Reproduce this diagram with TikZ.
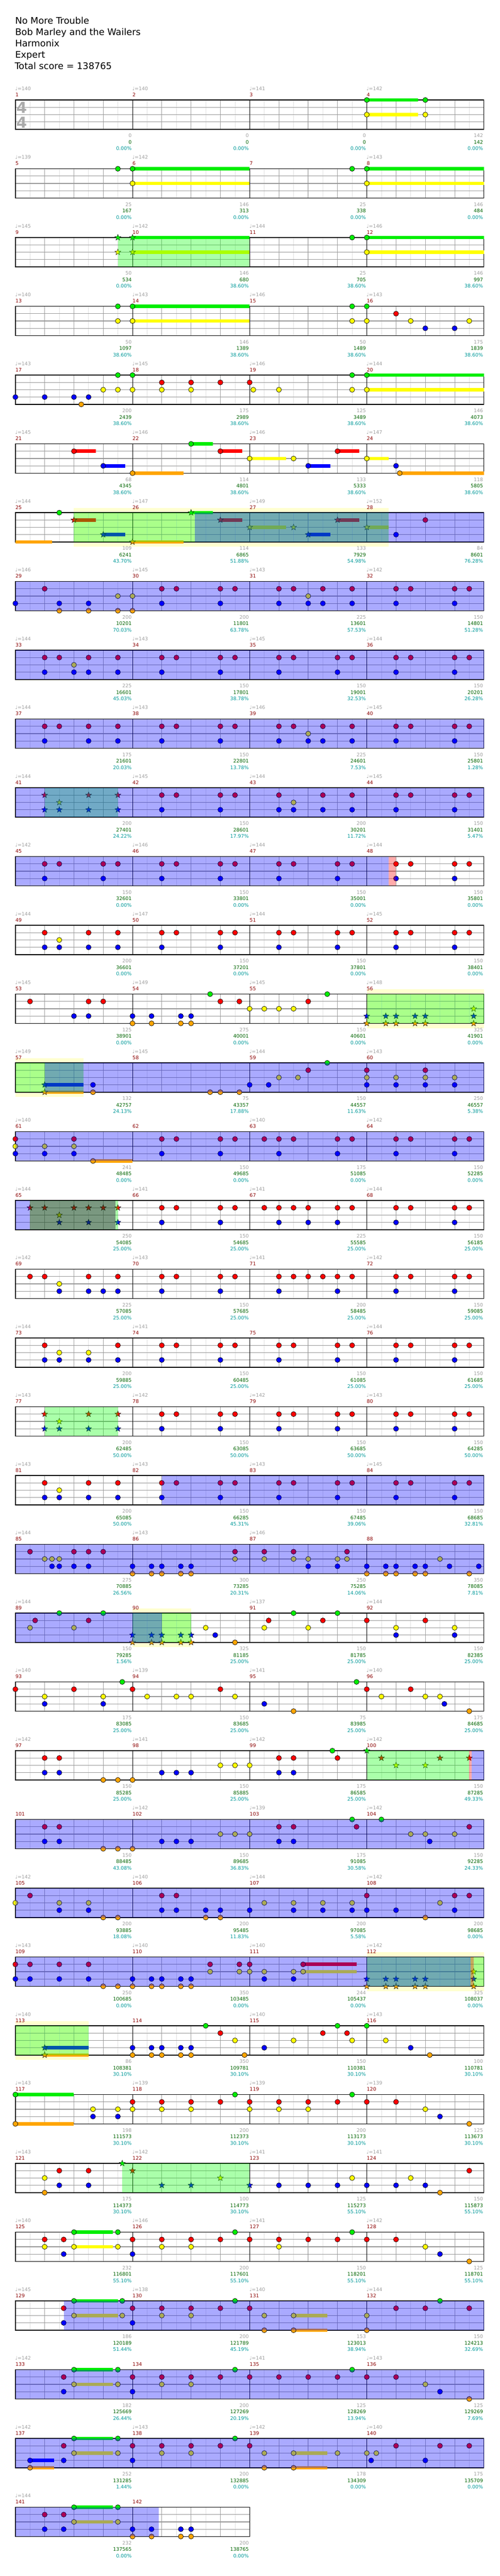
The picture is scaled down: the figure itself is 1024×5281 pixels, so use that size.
\documentclass[tikz,border=0pt]{standalone}
\usepackage{fontspec}
\setmainfont{DejaVu Sans}
\usepackage{tikz}
\usepackage{xcolor}

\definecolor{lane0}{RGB}{0,238,0}
\definecolor{lane1}{RGB}{255,0,0}
\definecolor{lane2}{RGB}{255,255,0}
\definecolor{lane3}{RGB}{0,0,255}
\definecolor{lane4}{RGB}{255,165,0}
\definecolor{subcol}{RGB}{224,224,224}
\definecolor{beatcol}{RGB}{160,160,160}
\definecolor{lanecol}{RGB}{150,150,150}
\definecolor{tempocol}{RGB}{160,160,160}
\definecolor{meascol}{RGB}{139,0,0}
\definecolor{scorecol}{RGB}{0,100,0}
\definecolor{pctcol}{RGB}{0,153,153}
\definecolor{bandcol}{RGB}{255,255,208}
\definecolor{sagecol}{RGB}{13,68,24}
\definecolor{sigcol}{RGB}{170,170,170}

\pgfdeclarelayer{bg}
\pgfdeclarelayer{over}
\pgfsetlayers{bg,main,over}

\newcommand{\setrow}[1]{\pgfmathsetmacro{\rowy}{205+141*#1}}
\newcommand{\staff}[1]{%
\pgfmathtruncatemacro{\nsub}{8*#1-1}%
\pgfmathtruncatemacro{\nbeat}{4*#1-1}%
\pgfmathtruncatemacro{\nbar}{#1-1}%
\pgfmathsetmacro{\stw}{240*#1}%
\foreach \i in {1,...,\nsub} \draw [subline] ({31.5+30*\i},\rowy) -- ++(0,60);
\foreach \i in {1,...,\nbeat} \draw [beatline] ({31.5+60*\i},\rowy) -- ++(0,60);
\foreach \l in {1,2,3} \draw [laneline] (31.5,{\rowy+15*\l}) -- ++(\stw,0);
\foreach \i in {1,...,\nbar} \draw [barline] ({31.5+240*\i},\rowy) -- ++(0,60);
\draw [staffframe] (31.5,\rowy) rectangle ++(\stw,60);}
\newcommand{\lab}[6]{%
\if\relax\detokenize{#3}\relax\else
\node [tempotext, anchor=base west] (t#2) at ({31+240*#1},{\rowy-20}) {♩=#3};\fi
\node [measnum, anchor=base west] (m#2) at ({31.5+240*#1},{\rowy-7}) {#2};
\node [notecount, anchor=base east] (c#2) at ({30+240*(#1+1)},{\rowy+77}) {#4};
\node [scoretext, anchor=base east] (s#2) at ({30+240*(#1+1)},{\rowy+90}) {#5};
\node [pcttext, anchor=base east] (p#2) at ({30+240*(#1+1)},{\rowy+103}) {#6\%};}
\newcommand{\hd}[2]{\filldraw [notehead, fill=lane#2] ({31.5+15*(#1)},{\rowy+15*#2}) circle [radius=5.2];}
\newcommand{\tail}[3]{\fill [lane#2] ({31.5+15*(#1)},{\rowy+15*#2-3.5}) rectangle ({31.5+15*(#3)},{\rowy+15*#2+3.5});}
\newcommand{\hs}[3]{\tail{#1}{#2}{#3}\hd{#1}{#2}}
\newcommand{\sd}[2]{\filldraw [starnote, fill=lane#2, shift={({31.5+15*(#1)},{\rowy+15*#2})}] (270:6.5) -- (306:2.7) -- (342:6.5) -- (18:2.7) -- (54:6.5) -- (90:2.7) -- (126:6.5) -- (162:2.7) -- (198:6.5) -- (234:2.7) -- cycle;}
\newcommand{\sds}[3]{\tail{#1}{#2}{#3}\sd{#1}{#2}}
\newcommand{\groove}[1]{\hd{16*#1+4}{1}\hd{16*#1+4}{3}\hd{16*#1+6}{1}\hd{16*#1+12}{1}\hd{16*#1+12}{3}\hd{16*#1+14}{1}}
\newcommand{\zone}[3]{\begin{pgfonlayer}{over}\fill [#1] ({31.5+15*(#2)},\rowy) rectangle ({31.5+15*(#3)},{\rowy+60});\end{pgfonlayer}}
\newcommand{\od}[2]{\zone{odzone}{#1}{#2}}
\newcommand{\fz}[2]{\zone{fillzone}{#1}{#2}}
\newcommand{\rz}[2]{\zone{endzone}{#1}{#2}}
\newcommand{\band}[2]{\begin{pgfonlayer}{bg}\fill [bandcol] ({31.5+15*(#1)},{\rowy-10}) rectangle ({31.5+15*(#2)},{\rowy+70});\end{pgfonlayer}}

\begin{document}
\begin{tikzpicture}[x=1pt,y=-1pt,
subline/.style={draw=subcol, line width=0.8pt},
beatline/.style={draw=beatcol, line width=0.9pt},
laneline/.style={draw=lanecol, line width=1.2pt},
barline/.style={draw=black, line width=1pt},
staffframe/.style={draw=black, line width=1.5pt},
notehead/.style={draw=black, line width=0.7pt},
starnote/.style={draw=black, line width=0.5pt},
odzone/.style={fill=blue, fill opacity=0.3333},
fillzone/.style={fill=green, fill opacity=0.3333},
endzone/.style={fill=red, fill opacity=0.3333},
sagezone/.style={fill=sagecol, fill opacity=0.55},
titletext/.style={inner sep=0pt, font=\fontsize{18.7}{22}\selectfont},
tempotext/.style={inner sep=0pt, text=tempocol, font=\fontsize{10}{12}\selectfont},
measnum/.style={inner sep=0pt, text=meascol, font=\fontsize{10}{12}\selectfont},
notecount/.style={inner sep=0pt, text=tempocol, font=\fontsize{10}{12}\selectfont},
scoretext/.style={inner sep=0pt, text=scorecol, font=\fontsize{10}{12}\selectfont},
pcttext/.style={inner sep=0pt, text=pctcol, font=\fontsize{10}{12}\selectfont},
timesig/.style={inner sep=0pt, text=sigcol, font=\bfseries\fontsize{31}{31}\selectfont}]
\useasboundingbox (0,0) rectangle (1024,5281);
\begin{pgfonlayer}{bg}\fill [white] (0,0) rectangle (1024,5281);\end{pgfonlayer}

\node [titletext, anchor=base west] (song) at (31,49) {No More Trouble};
\node [titletext, anchor=base west] (artist) at (31,72.3) {Bob Marley and the Wailers};
\node [titletext, anchor=base west] (author) at (31,95.6) {Harmonix};
\node [titletext, anchor=base west] (level) at (31,118.9) {Expert};
\node [titletext, anchor=base west] (total) at (30,142.2) {Total score = 138765};

\setrow{0}\staff{4}
\node [timesig] (sigtop) at (44.5,221) {4};
\node [timesig] (sigbot) at (44.5,251.5) {4};
\hs{48}{0}{55}\hd{56}{0}\hs{48}{2}{55}\hd{56}{2}
\lab{0}{1}{140}{0}{0}{0.00}\lab{1}{2}{140}{0}{0}{0.00}\lab{2}{3}{141}{0}{0}{0.00}\lab{3}{4}{142}{142}{142}{0.00}

\setrow{1}\staff{4}
\hd{14}{0}\hs{16}{0}{32}\hs{16}{2}{32}\hd{46}{0}\hs{48}{0}{64}\hs{48}{2}{64}
\lab{0}{5}{139}{25}{167}{0.00}\lab{1}{6}{142}{146}{313}{0.00}\lab{2}{7}{}{25}{338}{0.00}\lab{3}{8}{143}{146}{484}{0.00}

\setrow{2}\staff{4}
\fz{14}{32}
\sd{14}{0}\sds{16}{0}{32}\sd{14}{2}\sds{16}{2}{32}\hd{46}{0}\hs{48}{0}{64}\hs{48}{2}{64}
\lab{0}{9}{145}{50}{534}{0.00}\lab{1}{10}{142}{146}{680}{38.60}\lab{2}{11}{144}{25}{705}{38.60}\lab{3}{12}{146}{146}{997}{38.60}

\setrow{3}\staff{4}
\hd{14}{0}\hs{16}{0}{32}\hd{14}{2}\hs{16}{2}{32}\hd{46}{0}\hd{48}{0}\hd{46}{2}\hd{48}{2}\hd{52}{1}\hd{54}{2}\hd{56}{3}\hd{60}{3}\hd{62}{2}
\lab{0}{13}{140}{50}{1097}{38.60}\lab{1}{14}{143}{146}{1389}{38.60}\lab{2}{15}{146}{50}{1489}{38.60}\lab{3}{16}{143}{175}{1839}{38.60}

\setrow{4}\staff{4}
\hd{0}{3}\hd{4}{3}\hd{8}{3}\hd{10}{3}\hd{9}{4}\hd{12}{2}\hd{14}{2}\hd{14}{0}\hd{16}{0}\hd{16}{2}\hd{20}{1}\hd{20}{2}\hd{24}{1}\hd{24}{2}\hd{28}{1}\hd{32}{1}\hd{32.5}{2}\hd{36}{2}
\hd{46}{0}\hs{48}{0}{64}\hd{46}{2}\hs{48}{2}{64}
\lab{0}{17}{143}{200}{2439}{38.60}\lab{1}{18}{145}{175}{2989}{38.60}\lab{2}{19}{146}{125}{3489}{38.60}\lab{3}{20}{144}{146}{4073}{38.60}

\setrow{5}\staff{4}
\hs{8}{1}{11}\hs{12}{3}{15}\hs{16}{4}{23}\hs{24}{0}{27}\hs{28}{1}{31}\hs{32}{2}{37}\hd{38}{2}\hs{40}{3}{43}\hs{44}{1}{47}\hs{48}{2}{51}\hd{52}{3}\hs{52.5}{4}{64}
\lab{0}{21}{145}{68}{4345}{38.60}\lab{1}{22}{146}{114}{4801}{38.60}\lab{2}{23}{146}{133}{5333}{38.60}\lab{3}{24}{147}{118}{5805}{38.60}

\setrow{6}\staff{4}
\band{8}{51}\fz{8}{51}\od{24.5}{64}
\tail{0}{4}{5}\hd{6}{0}
\sds{8}{1}{11}\sds{12}{3}{15}\sds{16}{4}{23}\sds{24}{0}{27}\sds{28}{1}{31}\sds{32}{2}{37}\sd{38}{2}\sds{40}{3}{43}\sds{44}{1}{47}\sds{48}{2}{51}\hd{52}{3}\hd{56}{1}
\lab{0}{25}{144}{109}{6241}{43.70}\lab{1}{26}{147}{114}{6865}{51.88}\lab{2}{27}{149}{133}{7929}{54.98}\lab{3}{28}{152}{84}{8601}{76.28}

\setrow{7}\staff{4}
\od{0}{64}
\hd{0}{3}\hd{4}{1}\hd{6}{3}\hd{6}{4}\hd{10}{3}\hd{10}{4}\hd{14}{2}\hd{14}{4}\hd{16}{2}\hd{16}{4}
\groove{1}
\hd{36}{1}\hd{36}{3}\hd{38}{1}\hd{40}{2}\hd{40}{3}\hd{42}{1}\hd{42}{3}\hd{46}{1}\hd{46}{3}
\groove{3}
\lab{0}{29}{146}{200}{10201}{70.03}\lab{1}{30}{145}{200}{11801}{63.78}\lab{2}{31}{143}{225}{13601}{57.53}\lab{3}{32}{142}{150}{14801}{51.28}

\setrow{8}\staff{4}
\od{0}{64}
\hd{4}{1}\hd{4}{3}\hd{6}{1}\hd{8}{2}\hd{8}{3}\hd{10}{1}\hd{10}{3}\hd{14}{1}\hd{14}{3}
\groove{1}\groove{2}\groove{3}
\lab{0}{33}{144}{225}{16601}{45.03}\lab{1}{34}{143}{150}{17801}{38.78}\lab{2}{35}{145}{150}{19001}{32.53}\lab{3}{36}{144}{150}{20201}{26.28}

\setrow{9}\staff{4}
\od{0}{64}
\hd{4}{1}\hd{4}{3}\hd{6}{1}\hd{10}{1}\hd{10}{3}\hd{14}{1}\hd{14}{3}
\groove{1}
\hd{36}{1}\hd{36}{3}\hd{38}{1}\hd{40}{2}\hd{40}{3}\hd{42}{1}\hd{42}{3}\hd{46}{1}\hd{46}{3}
\groove{3}
\lab{0}{37}{144}{175}{21601}{20.03}\lab{1}{38}{143}{150}{22801}{13.78}\lab{2}{39}{146}{225}{24601}{7.53}\lab{3}{40}{145}{150}{25801}{1.28}

\setrow{10}\staff{4}
\fz{4}{14}\od{0}{64}
\sd{4}{1}\sd{4}{3}\sd{6}{2}\sd{6}{3}\sd{10}{1}\sd{10}{3}\sd{14}{1}\sd{14}{3}
\groove{1}
\hd{36}{1}\hd{36}{3}\hd{38}{2}\hd{38}{3}\hd{42}{1}\hd{42}{3}\hd{46}{1}\hd{46}{3}
\groove{3}
\lab{0}{41}{144}{200}{27401}{24.22}\lab{1}{42}{145}{150}{28601}{17.97}\lab{2}{43}{144}{200}{30201}{11.72}\lab{3}{44}{145}{150}{31401}{5.47}

\setrow{11}\staff{4}
\od{0}{51}\rz{51}{52}
\groove{0}\groove{1}\groove{2}\groove{3}
\lab{0}{45}{142}{150}{32601}{0.00}\lab{1}{46}{146}{150}{33801}{0.00}\lab{2}{47}{144}{150}{35001}{0.00}\lab{3}{48}{144}{150}{35801}{0.00}

\setrow{12}\staff{4}
\hd{4}{1}\hd{4}{3}\hd{6}{2}\hd{6}{3}\hd{10}{1}\hd{10}{3}\hd{14}{1}\hd{14}{3}
\groove{1}\groove{2}\groove{3}
\lab{0}{49}{144}{200}{36601}{0.00}\lab{1}{50}{147}{150}{37201}{0.00}\lab{2}{51}{144}{150}{37801}{0.00}\lab{3}{52}{145}{150}{38401}{0.00}

\setrow{13}\staff{4}
\band{48}{64}\fz{48}{64}
\hd{2}{1}\hd{8}{3}\hd{10}{1}\hd{10}{3}\hd{12}{1}
\hd{16}{3}\hd{16}{4}\hd{18.6}{3}\hd{18.6}{4}\hd{22.6}{3}\hd{22.6}{4}\hd{24}{3}\hd{24}{4}\hd{26.6}{0}\hd{28}{1}\hd{30.6}{1}
\hd{32}{2}\hd{34}{2}\hd{36}{2}\hd{38}{2}\hd{40}{1}\hd{42.6}{0}
\sd{48}{3}\sd{48}{4}\sd{50.6}{3}\sd{50.6}{4}\sd{52}{3}\sd{52}{4}\sd{54.6}{3}\sd{54.6}{4}\sd{56}{3}\sd{56}{4}\sd{62.6}{2}\sd{62.6}{3}\sd{62.6}{4}
\lab{0}{53}{145}{125}{38901}{0.00}\lab{1}{54}{149}{275}{40001}{0.00}\lab{2}{55}{145}{150}{40601}{0.00}\lab{3}{56}{148}{325}{41901}{0.00}

\setrow{14}\staff{4}
\band{0}{9.3}\fz{0}{9.3}\od{4}{64}
\sds{4}{3}{9.3}\sds{4}{4}{9.3}\hd{10.6}{3}\hd{10.6}{4}\hd{26.6}{4}\hd{28}{4}\hd{30.6}{4}
\hd{32}{3}\hd{34.6}{3}\hd{36}{2}\hd{38.6}{2}\hd{40}{1}\hd{42.6}{0}
\hd{48}{1}\hd{48}{2}\hd{48}{3}\hd{52}{2}\hd{52}{3}\hd{56}{1}\hd{56}{2}\hd{56}{3}\hd{60}{2}\hd{60}{3}
\lab{0}{57}{149}{132}{42757}{24.13}\lab{1}{58}{145}{75}{43357}{17.88}\lab{2}{59}{144}{150}{44557}{11.63}\lab{3}{60}{143}{250}{46557}{5.38}

\setrow{15}\staff{4}
\od{0}{64}
\hd{0}{1}\hd{0}{2}\hd{0}{3}\hd{4}{2}\hd{4}{3}\hd{8}{1}\hd{8}{2}\hd{8}{3}\hs{10.6}{4}{16}
\groove{1}\hd{34}{1}\groove{2}\groove{3}
\lab{0}{61}{140}{241}{48485}{0.00}\lab{1}{62}{}{150}{49685}{0.00}\lab{2}{63}{140}{175}{51085}{0.00}\lab{3}{64}{142}{150}{52285}{0.00}

\setrow{16}\staff{4}
\od{0}{2}\zone{sagezone}{2}{13.7}\fz{13.7}{14}
\sd{2}{1}\sd{4}{1}\sd{6}{2}\sd{6}{3}\sd{8}{1}\sd{10}{1}\sd{10}{3}\sd{12}{1}\sd{14}{1}\sd{14}{3}
\groove{1}
\hd{34}{1}\hd{36}{1}\hd{36}{3}\hd{38}{1}\hd{40}{1}\hd{40}{3}\hd{44}{1}\hd{44}{3}\hd{46}{1}
\groove{3}
\lab{0}{65}{144}{250}{54085}{25.00}\lab{1}{66}{141}{150}{54685}{25.00}\lab{2}{67}{141}{225}{55585}{25.00}\lab{3}{68}{144}{150}{56185}{25.00}

\setrow{17}\staff{4}
\hd{2}{1}\hd{4}{1}\hd{6}{2}\hd{6}{3}\hd{10}{1}\hd{10}{3}\hd{12}{3}\hd{14}{1}\hd{14}{3}
\groove{1}
\hd{36}{1}\hd{36}{3}\hd{38}{1}\hd{40}{1}\hd{42}{1}\hd{44}{1}\hd{44}{3}\hd{46}{1}
\groove{3}
\lab{0}{69}{142}{225}{57085}{25.00}\lab{1}{70}{143}{150}{57685}{25.00}\lab{2}{71}{141}{200}{58485}{25.00}\lab{3}{72}{142}{150}{59085}{25.00}

\setrow{18}\staff{4}
\hd{4}{1}\hd{4}{3}\hd{6}{2}\hd{6}{3}\hd{10}{2}\hd{10}{3}\hd{14}{1}\hd{14}{3}
\groove{1}\groove{2}\groove{3}
\lab{0}{73}{144}{200}{59885}{25.00}\lab{1}{74}{141}{150}{60485}{25.00}\lab{2}{75}{}{150}{61085}{25.00}\lab{3}{76}{144}{150}{61685}{25.00}

\setrow{19}\staff{4}
\fz{4}{14}
\sd{4}{1}\sd{4}{3}\sd{6}{2}\sd{6}{3}\sd{10}{1}\sd{10}{3}\sd{14}{1}\sd{14}{3}
\groove{1}\groove{2}\groove{3}
\lab{0}{77}{143}{200}{62485}{50.00}\lab{1}{78}{142}{150}{63085}{50.00}\lab{2}{79}{142}{150}{63685}{50.00}\lab{3}{80}{143}{150}{64285}{50.00}

\setrow{20}\staff{4}
\od{20}{64}
\hd{4}{1}\hd{4}{3}\hd{6}{2}\hd{6}{3}\hd{10}{1}\hd{10}{3}\hd{14}{1}\hd{14}{3}
\groove{1}\groove{2}\groove{3}
\lab{0}{81}{143}{200}{65085}{50.00}\lab{1}{82}{143}{150}{66285}{45.31}\lab{2}{83}{143}{150}{67485}{39.06}\lab{3}{84}{145}{150}{68685}{32.81}

\setrow{21}\staff{4}
\od{0}{64}
\hd{2}{1}\hd{4}{2}\hd{5}{2}\hd{6}{2}\hd{5}{3}\hd{6}{3}\hd{8}{1}\hd{8}{3}\hd{10}{1}\hd{10}{3}\hd{12}{1}
\hd{16}{3}\hd{16}{4}\hd{18.6}{3}\hd{18.6}{4}\hd{20}{3}\hd{20}{4}\hd{22.6}{3}\hd{22.6}{4}\hd{24}{3}\hd{24}{4}\hd{30}{1}\hd{30}{2}
\hd{34}{1}\hd{34}{2}\hd{38}{1}\hd{38}{2}\hd{40}{2}\hd{40}{3}\hd{44}{2}\hd{44}{3}\hd{45.3}{1}\hd{45.3}{2}
\hd{48}{3}\hd{48}{4}\hd{50.6}{3}\hd{50.6}{4}\hd{52}{3}\hd{52}{4}\hd{54.6}{3}\hd{54.6}{4}\hd{56}{3}\hd{56}{4}\hd{58}{2}\hd{59.3}{3}\hd{62}{4}\hd{63.3}{3}
\lab{0}{85}{144}{275}{70885}{26.56}\lab{1}{86}{143}{300}{73285}{20.31}\lab{2}{87}{146}{250}{75285}{14.06}\lab{3}{88}{}{350}{78085}{7.81}

\setrow{22}\staff{4}
\band{16}{24}\fz{16}{24}\od{0}{20}
\hd{2}{2}\hd{2.7}{1}\hd{6}{0}\hd{8}{2}\hd{10}{1}\hd{12}{0}
\sd{16}{3}\sd{16}{4}\sd{18.6}{3}\sd{18.6}{4}\sd{20}{3}\sd{20}{4}\sd{22.6}{3}\sd{22.6}{4}\sd{24}{3}\sd{24}{4}
\hd{26}{2}\hd{27.3}{3}\hd{30}{4}
\hd{34}{2}\hd{34.6}{1}\hd{38}{0}\hd{40}{2}\hd{42}{1}\hd{44}{0}
\hd{48}{1}\hd{52}{2}\hd{52}{3}\hd{56}{1}\hd{60}{2}\hd{60}{3}
\lab{0}{89}{144}{150}{79285}{1.56}\lab{1}{90}{}{325}{81185}{25.00}\lab{2}{91}{137}{150}{81785}{25.00}\lab{3}{92}{144}{150}{82385}{25.00}

\setrow{23}\staff{4}
\hd{0}{1}\hd{4}{2}\hd{4}{3}\hd{8}{1}\hd{12}{2}\hd{12}{3}\hd{14.6}{0}
\hd{16}{1}\hd{18}{2}\hd{22}{2}\hd{24}{2}\hd{28}{1}\hd{30}{2}
\hd{34}{3}\hd{38}{4}\hd{46.6}{0}
\hd{48}{1}\hd{50}{2}\hd{54}{1}\hd{56}{2}\hd{58}{2}\hd{58.6}{3}\hd{62}{4}
\lab{0}{93}{140}{175}{83085}{25.00}\lab{1}{94}{139}{150}{83685}{25.00}\lab{2}{95}{141}{75}{83985}{25.00}\lab{3}{96}{140}{175}{84685}{25.00}

\setrow{24}\staff{4}
\fz{48}{62}\rz{62}{62.3}\od{62.3}{64}
\hd{4}{1}\hd{4}{3}\hd{6}{1}\hd{6}{3}\hd{12}{4}\hd{14}{4}\hd{16}{4}
\hd{20}{3}\hd{22}{3}\hd{24}{3}\hd{28}{2}\hd{30}{2}\hd{32}{2}
\hd{36}{1}\hd{36}{3}\hd{38}{1}\hd{38}{3}\hd{43.3}{0}\hd{44}{1}
\sd{48}{0}\sd{50}{1}\sd{52}{2}\sd{56}{2}\sd{58}{1}\sd{62}{1}
\lab{0}{97}{142}{150}{85285}{25.00}\lab{1}{98}{141}{150}{85885}{25.00}\lab{2}{99}{142}{175}{86585}{25.00}\lab{3}{100}{142}{150}{87285}{49.33}

\setrow{25}\staff{4}
\od{0}{64}
\hd{4}{1}\hd{4}{3}\hd{6}{1}\hd{6}{3}\hd{12}{4}\hd{14}{4}\hd{16}{4}
\hd{20}{3}\hd{22}{3}\hd{24}{3}\hd{28}{2}\hd{30}{2}\hd{32}{2}
\hd{36}{1}\hd{36}{3}\hd{38}{1}\hd{38}{3}\hd{46}{0}\hd{46.6}{1}
\hd{50}{0}\hd{54}{2}\hd{56}{2}\hd{56.6}{3}\hd{60}{2}\hd{62}{1}
\lab{0}{101}{}{150}{88485}{43.08}\lab{1}{102}{142}{150}{89685}{36.83}\lab{2}{103}{139}{175}{91085}{30.58}\lab{3}{104}{142}{150}{92285}{24.33}

\setrow{26}\staff{4}
\od{0}{64}
\hd{0}{2}\hd{2}{1}\hd{6}{2}\hd{6}{3}\hd{10}{2}\hd{10}{3}\hd{12}{4}\hd{14}{4}
\hd{20}{1}\hd{20}{3}\hd{22}{1}\hd{22}{3}\hd{26}{3}\hd{26}{4}\hd{28}{3}\hd{28}{4}\hd{32}{3}
\hd{34}{2}\hd{38}{2}\hd{38}{3}\hd{42}{2}\hd{42}{3}\hd{46}{2}\hd{46}{3}
\hd{48}{1}\hd{48}{3}\hd{52}{3}\hd{56}{4}\hd{58}{2}\hd{60}{1}\hd{60}{3}\hd{62}{1}
\lab{0}{105}{142}{200}{93885}{18.08}\lab{1}{106}{140}{200}{95485}{11.83}\lab{2}{107}{144}{200}{97085}{5.58}\lab{3}{108}{142}{200}{98685}{0.00}

\setrow{27}\staff{4}
\band{48}{64}\fz{48}{64}\od{0}{62.2}\rz{62.2}{62.6}
\hd{0}{1}\hd{0}{3}\hd{2}{1}\hd{2}{3}\hd{6}{1}\hd{6}{3}\hd{10}{1}\hd{10}{3}\hd{12}{4}\hd{14}{4}
\hd{16}{3}\hd{16}{4}\hd{18.6}{3}\hd{18.6}{4}\hd{20}{3}\hd{20}{4}\hd{22.6}{3}\hd{22.6}{4}\hd{24}{3}\hd{24}{4}
\hd{26.6}{1}\hd{26.6}{2}\hd{30.6}{1}\hd{30.6}{2}\hd{32}{1}\hd{32}{2}
\hd{34}{2}\hd{34}{3}\hd{38}{2}\hd{38}{3}\hs{39.3}{1}{46.6}\hs{39.3}{2}{46.6}
\sd{48}{3}\sd{48}{4}\sd{50.6}{3}\sd{50.6}{4}\sd{52}{3}\sd{52}{4}\sd{54.6}{3}\sd{54.6}{4}\sd{56}{3}\sd{56}{4}\sd{62.6}{2}\sd{62.6}{3}\sd{62.6}{4}
\lab{0}{109}{143}{250}{100685}{0.00}\lab{1}{110}{140}{350}{103485}{0.00}\lab{2}{111}{140}{244}{105437}{0.00}\lab{3}{112}{142}{325}{108037}{0.00}

\setrow{28}\staff{4}
\band{0}{10}\fz{0}{10}
\sds{4}{3}{10}\sds{4}{4}{10}
\hd{16}{3}\hd{16}{4}\hd{18.6}{3}\hd{18.6}{4}\hd{20}{3}\hd{20}{4}\hd{22.6}{3}\hd{22.6}{4}\hd{24}{3}\hd{24}{4}
\hd{26}{0}\hd{28}{1}\hd{30}{2}\hd{31.3}{4}
\hd{34}{3}\hd{38}{2}\hd{42}{1}\hd{44}{0}\hd{45.3}{1}\hd{46}{2}
\hd{48}{0}\hd{50.6}{2}\hd{54}{3}\hd{56.6}{4}
\lab{0}{113}{140}{86}{108381}{30.10}\lab{1}{114}{}{350}{109781}{30.10}\lab{2}{115}{140}{150}{110381}{30.10}\lab{3}{116}{143}{100}{110781}{30.10}

\setrow{29}\staff{4}
\hs{0}{0}{8}\hs{0}{4}{8}\hd{10.6}{2}\hd{10.6}{3}\hd{14}{2}\hd{14}{3}
\hd{16}{1}\hd{16}{2}\hd{20}{1}\hd{20}{2}\hd{24}{1}\hd{24}{2}\hd{28}{1}\hd{30}{0}
\hd{32}{1}\hd{32}{2}\hd{36}{1}\hd{36}{2}\hd{40}{1}\hd{40}{2}\hd{44}{1}\hd{46}{0}
\hd{48}{1}\hd{52}{1}\hd{56}{2}\hd{58}{3}\hd{62}{4}
\lab{0}{117}{143}{198}{111573}{30.10}\lab{1}{118}{139}{200}{112373}{30.10}\lab{2}{119}{139}{200}{113173}{30.10}\lab{3}{120}{139}{125}{113673}{30.10}

\setrow{30}\staff{4}
\fz{14.6}{32}
\hd{4}{2}\hd{4}{4}\hd{6}{1}\hd{6}{3}\hd{10}{1}\hd{10}{3}
\sd{14.6}{0}\sd{16}{1}\sd{20}{3}\sd{24}{3}\sd{28}{2}\sd{32}{3}
\hd{36}{3}\hd{40}{3}\hd{44}{3}\hd{46}{2}
\hd{48}{3}\hd{52}{3}\hd{54}{2}\hd{56}{3}\hd{58}{4}\hd{62}{1}
\lab{0}{121}{143}{175}{114373}{30.10}\lab{1}{122}{142}{100}{114773}{30.10}\lab{2}{123}{141}{125}{115273}{55.10}\lab{3}{124}{141}{150}{115873}{55.10}

\setrow{31}\staff{4}
\hd{4}{1}\hd{4}{2}\hd{6.6}{1}\hd{6.6}{3}\hs{8}{0}{13.3}\hs{8}{2}{13.3}\hd{14}{0}\hd{14}{2}
\hd{16}{1}\hd{16}{3}\hd{20}{1}\hd{20}{2}\hd{24}{1}\hd{24}{2}\hd{28}{1}\hd{30}{0}
\hd{32}{1}\hd{36}{1}\hd{36}{2}\hd{40}{1}\hd{44}{1}\hd{46}{0}
\hd{48}{1}\hd{52}{1}\hd{56}{2}\hd{58}{3}\hd{62}{4}
\lab{0}{125}{140}{232}{116801}{55.10}\lab{1}{126}{146}{200}{117601}{55.10}\lab{2}{127}{141}{150}{118201}{55.10}\lab{3}{128}{142}{125}{118701}{55.10}

\setrow{32}\staff{4}
\od{6.6}{64}
\hd{6.6}{1}\hd{6.6}{3}\hs{8}{0}{14}\hs{8}{2}{14}\hd{14.6}{0}\hd{14.6}{2}
\hd{16}{1}\hd{16}{3}\hd{20}{1}\hd{20}{2}\hd{24}{1}\hd{24}{2}\hd{28}{1}\hd{30}{0}
\hd{32}{1}\hd{34}{2}\hd{34}{4}\hs{38}{2}{42.6}\hs{38}{4}{42.6}
\hd{48}{2}\hd{48}{4}\hd{52}{1}\hd{56}{1}\hd{58}{0}\hd{62}{1}
\lab{0}{129}{145}{186}{120189}{51.44}\lab{1}{130}{138}{200}{121789}{45.19}\lab{2}{131}{140}{153}{123013}{38.94}\lab{3}{132}{144}{150}{124213}{32.69}

\setrow{33}\staff{4}
\od{0}{64}
\hd{6.6}{1}\hd{6.6}{3}\hs{8}{0}{13.3}\hs{8}{2}{13.3}\hd{14}{0}\hd{14}{2}
\hd{16}{1}\hd{16}{3}\hd{20}{1}\hd{20}{2}\hd{24}{1}\hd{24}{2}\hd{28}{1}\hd{30}{0}
\hd{32}{1}\hd{36}{1}\hd{40}{1}\hd{44}{1}\hd{46}{0}
\hd{48}{1}\hd{52}{1}\hd{56}{2}\hd{58}{3}\hd{62}{4}
\lab{0}{133}{142}{182}{125669}{26.44}\lab{1}{134}{}{200}{127269}{20.19}\lab{2}{135}{141}{125}{128269}{13.94}\lab{3}{136}{143}{125}{129269}{7.69}

\setrow{34}\staff{4}
\od{0}{64}
\hs{2}{3}{5.3}\hs{2}{4}{5.3}\hd{6.6}{1}\hd{6.6}{3}\hs{8}{0}{13.3}\hs{8}{2}{13.3}\hd{14}{0}\hd{14}{2}
\hd{16}{1}\hd{16}{3}\hd{20}{1}\hd{20}{2}\hd{24}{1}\hd{24}{2}\hd{28}{1}\hd{30}{0}
\hd{32}{1}\hd{34}{2}\hd{34}{4}\hs{38}{2}{42.6}\hs{38}{4}{42.6}\hd{44}{2}
\hd{48}{2}\hd{49.3}{2}\hd{48.6}{3}\hd{52}{1}\hd{56}{3}\hd{58}{1}\hd{62}{1}
\lab{0}{137}{142}{252}{131285}{1.44}\lab{1}{138}{143}{200}{132885}{0.00}\lab{2}{139}{142}{178}{134309}{0.00}\lab{3}{140}{140}{175}{135709}{0.00}

\setrow{35}\staff{2}
\od{0}{19.6}
\hd{4}{1}\hd{4}{3}\hd{6.6}{1}\hd{6.6}{3}\hs{8}{0}{13.3}\hs{8}{2}{13.3}\hd{14}{0}\hd{14}{2}
\hd{16}{3}\hd{16}{4}\hd{18.6}{3}\hd{18.6}{4}\hd{22.6}{3}\hd{22.6}{4}\hd{24}{3}\hd{24}{4}
\lab{0}{141}{144}{232}{137565}{0.00}\lab{1}{142}{}{200}{138765}{0.00}
\end{tikzpicture}
\end{document}
